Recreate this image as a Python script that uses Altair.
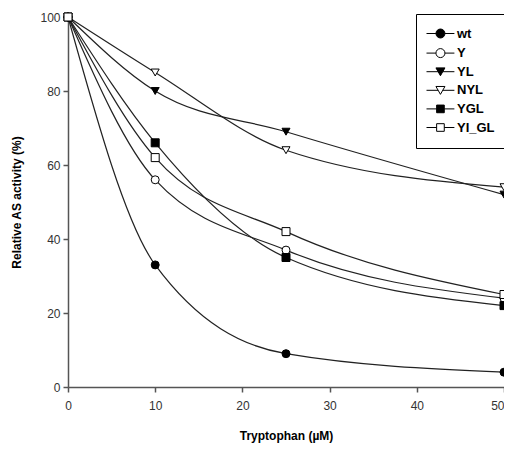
import altair as alt
import pandas as pd

# ---- data ----
conc = [0, 10, 25, 50]
series = ["wt", "Y", "YL", "NYL", "YGL", "YI_GL"]
wt = [100, 33, 9, 4]
Y = [100, 56, 37, 24]
YL = [100, 80, 69, 52]
NYL = [100, 85, 64, 54]
YGL = [100, 66, 35, 22]
YI_GL = [100, 62, 42, 25]
x_ticks = [0, 10, 20, 30, 40, 50]
y_ticks = [0, 20, 40, 60, 80, 100]

values = {"wt": wt, "Y": Y, "YL": YL, "NYL": NYL, "YGL": YGL, "YI_GL": YI_GL}
rows = []
for s in series:
    for c, v in zip(conc, values[s]):
        rows.append({"series": s, "conc": c, "activity": v})
df = pd.DataFrame(rows)

fills = ["black", "white", "black", "white", "black", "white"]
marker_groups = {
    "circle": ["wt", "Y"],
    "triangle-down": ["YL", "NYL"],
    "square": ["YGL", "YI_GL"],
}

# legend symbols: line stubs + marker (unit coordinates)
circ = "M2.1,0A1,1,0,1,1,0.1,0A1,1,0,1,1,2.1,0Z"
leg_circle = "M-2,0H0.1M2.1,0H4.2" + circ
leg_tri = "M-2,0H0.59M1.61,0H4.2M0.1,-0.85L2.1,-0.85L1.1,0.9Z"
leg_sq = "M-2,0H0.25M1.95,0H4.2M0.25,-0.85H1.95V0.85H0.25Z"
legend_shapes = [leg_circle, leg_circle, leg_tri, leg_tri, leg_sq, leg_sq]

FONT = "Liberation Sans"

x_enc = alt.X(
    "conc:Q",
    scale=alt.Scale(domain=[0, 50], nice=False, zero=False),
    axis=alt.Axis(
        values=x_ticks, title="Tryptophan (µM)", labelPadding=8, titlePadding=19,
        labelAlign={"condition": {"test": "datum.value >= 50", "value": "right"}, "value": "center"},
    ),
)
y_enc = alt.Y(
    "activity:Q",
    scale=alt.Scale(domain=[0, 100], nice=False),
    axis=alt.Axis(values=y_ticks, title="Relative AS activity (%)", labelPadding=3,
                  titlePadding=16),
)

leg = alt.Legend(
    title=None,
    orient="none",
    legendX=348,
    legendY=-3,
    strokeColor="black",
    fillColor="white",
    padding=13,
    rowPadding=4.6,
    symbolSize=81,
    symbolStrokeColor="black",
    symbolStrokeWidth=1,
    labelFont=FONT,
    labelFontSize=13,
    labelFontWeight="bold",
    labelColor="black",
    labelOffset=15,
)

fill_enc = alt.Fill("series:N", scale=alt.Scale(domain=series, range=fills), legend=leg)

base = alt.Chart(df)

lines = base.mark_line(interpolate="monotone", color="#222222", strokeWidth=1.2).encode(
    x=x_enc, y=y_enc, detail="series:N"
)

point_layers = []
for shp, members in marker_groups.items():
    point_layers.append(
        base.transform_filter(alt.FieldOneOfPredicate(field="series", oneOf=members))
        .mark_point(shape=shp, filled=True, size=64, stroke="black", strokeWidth=1, opacity=1)
        .encode(x=x_enc, y=y_enc, fill=fill_enc)
    )

legend_layer = base.transform_filter("datum.conc < 0").mark_point(
    filled=True, size=81, stroke="black", strokeWidth=1, opacity=1
).encode(
    x=x_enc,
    y=y_enc,
    shape=alt.Shape("series:N", scale=alt.Scale(domain=series, range=legend_shapes), legend=leg),
    fill=fill_enc,
)

chart = (
    alt.layer(lines, *point_layers, legend_layer)
    .properties(
        width=436,
        height=370,
        autosize=alt.AutoSizeParams(type="none"),
        padding={"left": 60, "top": 9, "right": 0, "bottom": 63},
    )
    .configure_view(stroke=None)
    .configure_axis(
        grid=False,
        domainColor="#555555",
        domainWidth=1.5,
        tickColor="#555555",
        tickWidth=1.5,
        tickSize=5,
        labelFont=FONT,
        labelFontSize=12,
        labelColor="#333333",
        titleFont=FONT,
        titleFontSize=12,
        titleFontWeight="bold",
        titleColor="black",
    )
)

chart.save("out.html", embed_options={"renderer": "svg", "actions": False})
